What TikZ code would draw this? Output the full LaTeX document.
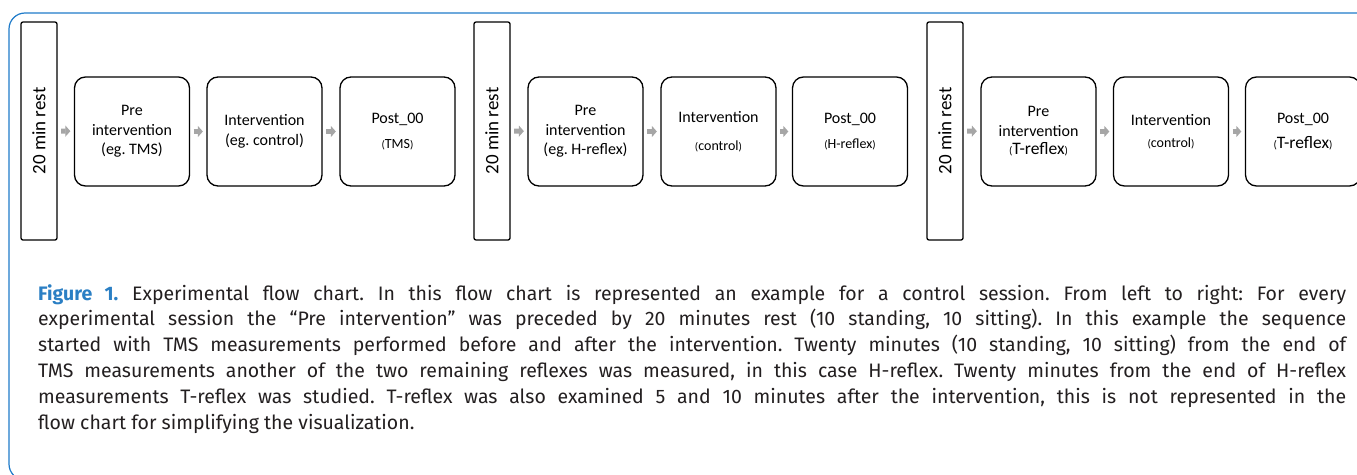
\documentclass[tikz,border=0pt]{standalone}
\usepackage{fontspec}
\usepackage{graphicx}
\setmainfont{Carlito}
\newfontfamily\capfont{Fira Sans}
\usetikzlibrary{arrows.meta}
\definecolor{frameblue}{HTML}{1F7BC9}
\definecolor{figblue}{HTML}{2B7FC4}
\definecolor{arrgray}{HTML}{A6A6A6}
\definecolor{captext}{HTML}{231F20}
\newcommand\smpar[1]{{\fontsize{11}{11}\selectfont #1}}
\newcommand\midtxt[1]{{\fontsize{14}{14}\selectfont #1}}
\newcommand\bigtxt[1]{{\fontsize{17.5}{17.5}\selectfont #1}}
\newcommand\capline[1]{\hbox to 1308pt{#1}}
\begin{document}
\frenchspacing
\begin{tikzpicture}[x=1pt,y=-1pt,
  restbar/.style={draw, line width=1.3pt, rounded corners=2pt, minimum width=36pt, minimum height=218pt, inner sep=0pt, font=\fontsize{19}{19}\selectfont},
  stagebox/.style={draw, line width=1.3pt, rounded corners=11pt, minimum width=115pt, minimum height=109pt, align=center, inner sep=0pt, font=\fontsize{16}{19.5}\selectfont},
  flow/.style={arrgray, line width=5pt, -{Triangle[length=5pt,width=11pt]}, shorten <=3.5pt, shorten >=3.5pt},
  capstyle/.style={anchor=base west, inner sep=0pt, text=captext, font=\capfont\fontsize{19.5}{25.8}\selectfont}]
\useasboundingbox (0,0) rectangle (1357,474);
\clip (0,0) rectangle (1357,474);
\draw[frameblue, line width=1.2pt, rounded corners=16pt] (1400,13) -- (9,13) -- (9,480) -- (1400,480);

% section 1
\node[restbar] (r1) at (39,131) {\rotatebox{90}{20 min rest}};
\node[stagebox] (a1) at (132,131.5) {Pre\\intervention\\(eg. TMS)};
\node[stagebox] (b1) at (264.5,131.5) {Intervention\\(eg. control)};
\node[stagebox] (c1) at (397.5,131.5) {Post\_00\\[5pt]\smpar{(}\midtxt{TMS}\smpar{)}};
% section 2
\node[restbar] (r2) at (492,131) {\rotatebox{90}{20 min rest}};
\node[stagebox] (a2) at (585.5,131.5) {Pre\\intervention\\(eg. H-reflex)};
\node[stagebox] (b2) at (718.5,131.5) {Intervention\\[8pt]\smpar{(}\midtxt{control}\smpar{)}};
\node[stagebox] (c2) at (850,131.5) {Post\_00\\[6pt]\smpar{(}\midtxt{H-reflex}\smpar{)}};
% section 3
\node[restbar] (r3) at (945,131) {\rotatebox{90}{20 min rest}};
\node[stagebox] (a3) at (1038.5,131.5) {Pre\\intervention\\[-1pt]\smpar{(}\bigtxt{T-reflex}\smpar{)}};
\node[stagebox] (b3) at (1171,131.5) {Intervention\\[2pt]\smpar{(}\midtxt{control}\smpar{)}};
\node[stagebox] (c3) at (1303,131.5) {Post\_00\\[6pt]\smpar{(}\bigtxt{T-reflex}\smpar{)}};

\draw[flow] (r1) -- (a1);
\draw[flow] (a1) -- (b1);
\draw[flow] (b1) -- (c1);
\draw[flow] (r2) -- (a2);
\draw[flow] (a2) -- (b2);
\draw[flow] (b2) -- (c2);
\draw[flow] (r3) -- (a3);
\draw[flow] (a3) -- (b3);
\draw[flow] (b3) -- (c3);

% caption
\node[capstyle] (l1) at (38,300) {\capline{{\color{figblue}\bfseries Figure 1.} Experimental flow chart. In this flow chart is represented an example for a control session. From left to right: For every}};
\node[capstyle] (l2) at (38,325.8) {\capline{experimental session the “Pre intervention” was preceded by 20 minutes rest (10 standing, 10 sitting). In this example the sequence}};
\node[capstyle] (l3) at (38,351.6) {\capline{started with TMS measurements performed before and after the intervention. Twenty minutes (10 standing, 10 sitting) from the end of}};
\node[capstyle] (l4) at (38,377.4) {\capline{TMS measurements another of the two remaining reflexes was measured, in this case H-reflex. Twenty minutes from the end of H-reflex}};
\node[capstyle] (l5) at (38,403.2) {\capline{measurements T-reflex was studied. T-reflex was also examined 5 and 10 minutes after the intervention, this is not represented in the}};
\node[capstyle] (l6) at (38,429) {\capline{flow chart for simplifying the visualization.\hfil}};
\end{tikzpicture}
\end{document}
